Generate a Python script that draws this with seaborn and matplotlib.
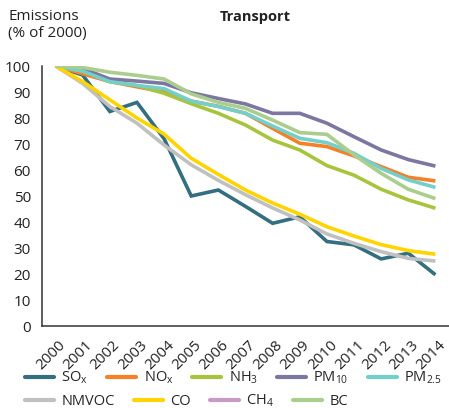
import numpy as np
import pandas as pd
import matplotlib
matplotlib.use("Agg")
import matplotlib.pyplot as plt
import matplotlib.transforms as mtransforms
from matplotlib.lines import Line2D
import seaborn as sns

years = list(range(2000, 2015))
sox   = [100, 96.5, 82.5, 86, 72, 50, 52.3, 46, 39.5, 42, 32.5, 31.2, 25.8, 28, 19.7]
nox   = [100, 97, 94, 92, 90, 86.5, 84.5, 81.8, 76, 70.3, 69, 65.4, 61.3, 57.2, 55.8]
nh3   = [100, 98, 94, 92.5, 89.5, 85.5, 81.8, 77.3, 71.5, 67.7, 61.7, 58, 52.6, 48.5, 45.3]
pm10  = [100, 99, 95, 94.2, 93.3, 89.7, 87.5, 85.4, 81.8, 81.8, 78, 72.8, 67.7, 64, 61.5]
pm25  = [100, 98, 94, 92.5, 91.3, 86.5, 84.4, 81.8, 76.9, 72.2, 70.5, 66.4, 60.6, 56.2, 53.3]
nmvoc = [100, 93.3, 84.4, 78, 69.6, 62, 56, 50.5, 45.4, 40.8, 35.4, 31.8, 28.6, 26, 25]
co    = [100, 94, 87, 80, 73.8, 64.5, 58.3, 52.3, 47.3, 43, 38.2, 34.6, 31.3, 29, 27.6]
ch4   = [None] * 15
bc    = [100, 99.4, 97.6, 96.4, 95, 89.3, 86, 83.7, 79.2, 74.4, 73.7, 65.8, 58.7, 52.6, 49]

series = ["SOx", "NOx", "NH3", "PM10", "PM2.5", "NMVOC", "CO", "CH4", "BC"]
labels = [r"SO$_\mathregular{x}$", r"NO$_\mathregular{x}$", r"NH$_\mathregular{3}$",
          r"PM$_\mathregular{10}$", r"PM$_\mathregular{2.5}$", "NMVOC", "CO",
          r"CH$_\mathregular{4}$", "BC"]
colors = ["#336f80", "#f58025", "#a8c43c", "#7b77a0", "#72cfcb",
          "#c0c0c0", "#ffd400", "#c89ac4", "#abcd8e"]
yticks = [0, 10, 20, 30, 40, 50, 60, 70, 80, 90, 100]

df = pd.DataFrame({"year": years, "SOx": sox, "NOx": nox, "NH3": nh3, "PM10": pm10,
                   "PM2.5": pm25, "NMVOC": nmvoc, "CO": co, "CH4": ch4, "BC": bc})
long = df.melt(id_vars="year", var_name="pollutant", value_name="value").dropna()
long["value"] = long["value"].astype(float)

sns.set_style("white")
plt.rcParams["font.family"] = ["Open Sans", "DejaVu Sans"]
plt.rcParams["mathtext.fontset"] = "custom"
plt.rcParams["mathtext.rm"] = "Open Sans"
plt.rcParams["mathtext.it"] = "Open Sans:italic"
plt.rcParams["mathtext.bf"] = "Open Sans:bold"

W, H = 449, 408
FS = 11
LFS = 10.5
fig = plt.figure(figsize=(W / 100, H / 100), dpi=100)
ax = fig.add_axes([42 / W, (H - 326) / H, (W - 42) / W, (326 - 66) / H])

palette = dict(zip(series, colors))
present = [s for s in series if s in long["pollutant"].unique()]
sns.lineplot(data=long, x="year", y="value", hue="pollutant", hue_order=present,
             palette=palette, linewidth=2.6, legend=False, ax=ax, sort=False)
for ln in ax.get_lines():
    ln.set_solid_capstyle("butt")
    ln.set_solid_joinstyle("miter")

ax.set_xlim(1999.5, 2014.5)
ax.set_ylim(0, 100)
ax.set_yticks(yticks)
ax.set_yticklabels([str(v) for v in yticks])
ax.set_xticks(years)
ax.set_xticklabels([str(y) for y in years], rotation=45, ha="right", va="center",
                   rotation_mode="anchor")
ax.set_xticks([y - 0.5 for y in years], minor=True)
ax.tick_params(axis="x", which="major", length=0, pad=12, labelsize=FS, colors="#222222")
ax.tick_params(axis="x", which="minor", length=5, width=1.1, color="#333333", direction="out")
ax.tick_params(axis="y", length=5, width=1.1, color="#333333", direction="out",
               labelsize=FS, pad=3, labelcolor="#222222")
offset = mtransforms.ScaledTranslation(8 / 100, 0, fig.dpi_scale_trans)
for lab in ax.get_xticklabels():
    lab.set_transform(lab.get_transform() + offset)
ax.set_xlabel("")
ax.set_ylabel("")
for s in ["top", "right"]:
    ax.spines[s].set_visible(False)
for s in ["left", "bottom"]:
    ax.spines[s].set_color("#333333")
    ax.spines[s].set_linewidth(1.1)
ax.grid(False)

fig.text(255 / W, 1 - 17 / H, "Transport", ha="center", va="center",
         fontsize=10.5, fontweight="bold", color="#222222")
fig.text(8 / W, 1 - 9 / H, "Emissions\n(% of 2000)", ha="left", va="top",
         fontsize=FS, color="#222222", linespacing=1.2)

handles = [Line2D([0], [0], color=c, lw=3) for c in colors]
common = dict(frameon=False, fontsize=LFS, handlelength=2.0, handletextpad=0.5,
              columnspacing=1.3, borderpad=0, borderaxespad=0, loc="center left")
fig.legend(handles[:5], labels[:5], ncol=5, bbox_to_anchor=(25 / W, 1 - 378 / H), **common)
fig.legend(handles[5:], labels[5:], ncol=4, bbox_to_anchor=(25 / W, 1 - 401 / H), **common)

fig.savefig("out.png", dpi=100)
